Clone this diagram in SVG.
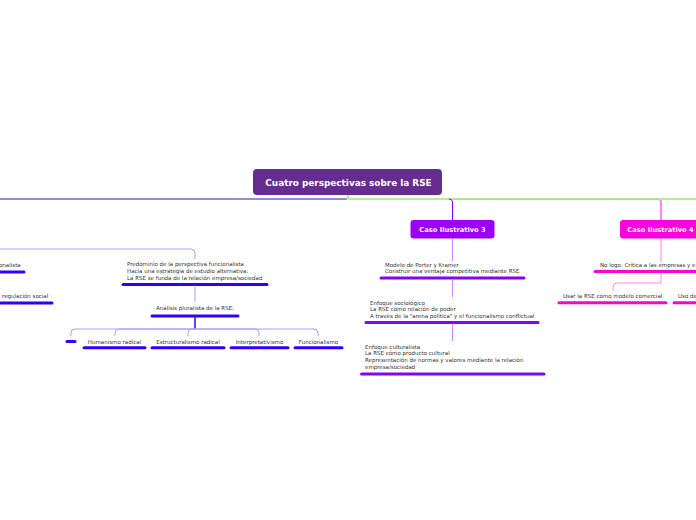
<svg xmlns="http://www.w3.org/2000/svg" width="696" height="520" viewBox="0 0 696 520">
<style>
.t{font-family:"DejaVu Sans","Verdana",sans-serif;font-size:5.5px;fill:#333333}
.c{text-anchor:middle}
.hb{font-family:"DejaVu Sans","Verdana",sans-serif;font-weight:bold;fill:#ffffff;text-anchor:middle}
.ub{stroke:#3000ff;stroke-width:3;stroke-linecap:round;fill:none}
.up{stroke:#8800ff;stroke-width:3;stroke-linecap:round;fill:none}
.um{stroke:#ff00dd;stroke-width:3;stroke-linecap:round;fill:none}
.lb{stroke:#aa9cff;stroke-width:1;fill:none}
.lp{stroke:#cf88ff;stroke-width:1;fill:none}
.lm{stroke:#ff88ee;stroke-width:1;fill:none}
</style>
<rect width="696" height="520" fill="#ffffff"/>
<g id="connectors">
  <path d="M455,199.7 H657 Q661,199.7 661,203 V220" stroke="#ff77e8" stroke-width="1" fill="none" opacity="0.45"/>
  <path d="M0,199 H347" stroke="#2a10cc" stroke-width="1" fill="none"/>
  <path d="M348,195 V199 H696" stroke="#5fe02a" stroke-width="1" fill="none"/>
  <path d="M661,200 V220" stroke="#ff22e6" stroke-width="1" fill="none"/>
  <path d="M449,199 Q452.5,199 452.5,202 V220" stroke="#9900ff" stroke-width="1" fill="none"/>
  <path d="M0,249 H191 Q195,249 195,253 V259" class="lb"/>
  <path d="M195,287 V302" class="lb"/>
  <path d="M195,317 V329" stroke="#3000ff" stroke-width="1.5" fill="none"/>
  <path d="M195,329 H75 Q71,329 71,333 V336" class="lb"/>
  <path d="M195,329 H119 Q115,329 115,333 V336" class="lb"/>
  <path d="M195,329 H192 Q188,329 188,333 V336" class="lb"/>
  <path d="M195,329 H255 Q259,329 259,333 V336" class="lb"/>
  <path d="M195,329 H314 Q318,329 318,333 V336" class="lb"/>
  <path d="M452.5,239 V261" class="lp"/>
  <path d="M452.5,280 V297" class="lp"/>
  <path d="M452.5,324 V341" class="lp"/>
  <path d="M661,239 V262" class="lm"/>
  <path d="M661,273 V283 H617 Q613,283 613,287 V291" class="lm"/>
</g>
<g id="root">
  <rect x="253" y="169" width="189" height="26" rx="4" fill="#662d91"/>
  <text class="hb" x="348.5" y="186" font-size="8.9">Cuatro perspectivas sobre la RSE</text>
</g>
<g id="caso3">
  <rect x="410.5" y="220" width="84" height="18.5" rx="3" fill="#9d00ff"/>
  <text class="hb" x="452.5" y="232.3" font-size="6.7">Caso Ilustrativo 3</text>
</g>
<g id="caso4">
  <rect x="620" y="220" width="90" height="18.5" rx="3" fill="#ff00e0"/>
  <text class="hb" x="660.5" y="232.3" font-size="6.7">Caso Ilustrativo 4</text>
</g>
<g id="left-a">
  <text class="t" x="-1" y="267">onalista</text>
  <path d="M-2,272 H24" class="ub"/>
</g>
<g id="left-b">
  <text class="t" x="2" y="298">regulación social</text>
  <path d="M-2,303 H52" class="ub"/>
</g>
<g id="predominio">
  <text class="t" x="127" y="266">Predominio de la perspectiva funcionalista</text>
  <text class="t" x="127" y="272.5">Hacia una estrategia de estudio alternativa:</text>
  <text class="t" x="127" y="279.5">La RSE se funda de la relación empresa/sociedad</text>
  <path d="M123,284.5 H267" class="ub"/>
</g>
<g id="analisis">
  <text class="t c" x="195" y="310">Análisis pluralista de la RSE:</text>
  <path d="M152,316 H238" class="ub"/>
</g>
<g id="empty-child">
  <path d="M67,341.5 H75" class="ub"/>
</g>
<g id="humanismo">
  <text class="t c" x="114.5" y="343.5">Humanismo radical</text>
  <path d="M84,347.8 H145" class="ub"/>
</g>
<g id="estructuralismo">
  <text class="t c" x="188" y="343.5">Estructuralismo radical</text>
  <path d="M152,347.8 H224" class="ub"/>
</g>
<g id="interpretativismo">
  <text class="t c" x="259.5" y="343.5">Interpretativismo</text>
  <path d="M231,347.8 H288" class="ub"/>
</g>
<g id="funcionalismo">
  <text class="t c" x="318.5" y="343.5">Funcionalismo</text>
  <path d="M295,347.8 H342" class="ub"/>
</g>
<g id="porter">
  <text class="t" x="385" y="267">Modelo de Porter y Kramer</text>
  <text class="t" x="385" y="273">Construir una ventaja competitiva mediante RSE</text>
  <path d="M381,278 H524" class="up"/>
</g>
<g id="sociologico">
  <text class="t" x="370" y="304.5">Enfoque sociológico</text>
  <text class="t" x="370" y="311">La RSE cómo relación de poder</text>
  <text class="t" x="370" y="317.5">A través de la "arena política" y el funcionalismo conflictual</text>
  <path d="M366,322.5 H538" class="up"/>
</g>
<g id="culturalista">
  <text class="t" x="365" y="348.5">Enfoque culturalista</text>
  <text class="t" x="365" y="355.2">La RSE cómo producto cultural</text>
  <text class="t" x="365" y="361.8">Representación de normas y valores mediante la relación</text>
  <text class="t" x="365" y="368.5">empresa/sociedad</text>
  <path d="M361.5,374 H544" class="up"/>
</g>
<g id="nologo">
  <text class="t" x="600" y="267">No logo. Crítica a las empresas y e</text>
  <path d="M595,271.5 H700" class="um"/>
</g>
<g id="usar">
  <text class="t" x="563" y="298">Usar la RSE cómo modelo comercial</text>
  <path d="M559,302.8 H666" class="um"/>
</g>
<g id="uso">
  <text class="t" x="678" y="298">Uso de</text>
  <path d="M674,302.8 H700" class="um"/>
</g>
</svg>
